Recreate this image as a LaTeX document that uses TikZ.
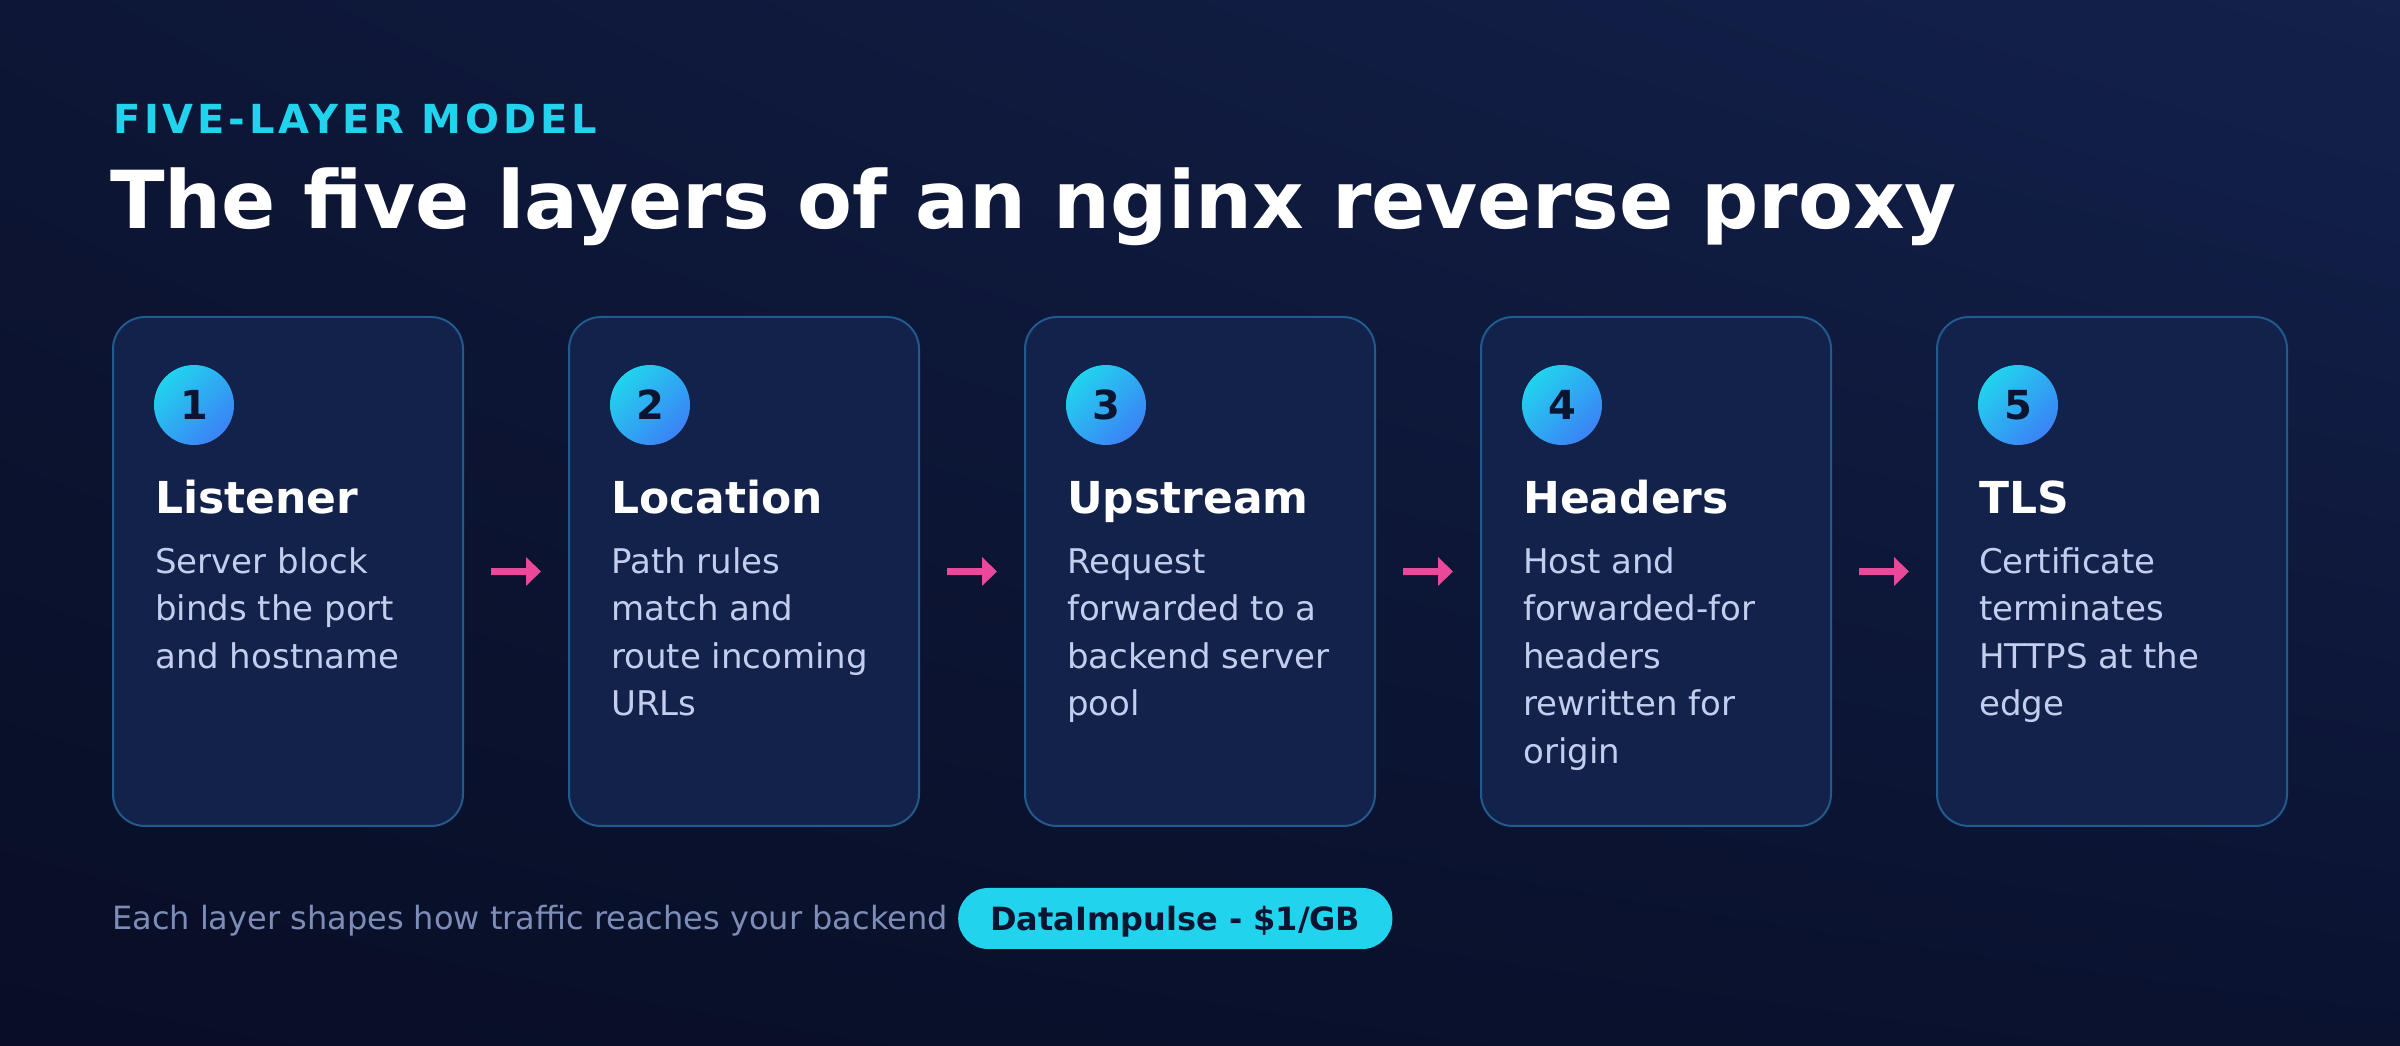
\documentclass[tikz,border=0pt]{standalone}
\usepackage{fontspec}
\setmainfont{DejaVu Sans}
\newfontfamily\tracked[LetterSpace=9.5]{DejaVu Sans}
\usetikzlibrary{arrows.meta,shadings}

\definecolor{bgtl}{HTML}{0D1636}
\definecolor{bgtr}{HTML}{13214B}
\definecolor{bgbl}{HTML}{080E25}
\definecolor{bgbr}{HTML}{0A1230}
\definecolor{cardfill}{HTML}{13224B}
\definecolor{cardline}{HTML}{215A8C}
\definecolor{cyanacc}{HTML}{22D3EE}
\definecolor{blueacc}{HTML}{3B82F6}
\definecolor{pinkacc}{HTML}{EC4899}
\definecolor{bodytext}{HTML}{C3CDEE}
\definecolor{mutedtext}{HTML}{7D8DB8}
\definecolor{ink}{HTML}{0B1430}

\begin{document}
\begin{tikzpicture}[x=1pt, y=1pt,
		card/.style={draw=cardline, line width=2pt, fill=cardfill, rounded corners=32pt, minimum width=350pt, minimum height=509pt, inner sep=0pt},
		badge/.style={circle, minimum size=80pt, inner sep=0pt, top color=cyanacc, bottom color=blueacc, shading angle=45, text=ink, font=\fontsize{40}{40}\selectfont\bfseries, text height=29pt, text depth=0pt},
		head/.style={anchor=base west, inner sep=0pt, text=white, font=\fontsize{44}{52}\selectfont\bfseries},
		body/.style={anchor=base west, inner sep=0pt, text=bodytext, align=left, font=\fontsize{34}{47.4}\selectfont},
		flow/.style={-{Triangle[length=15pt,width=28pt]}, line width=7pt, draw=pinkacc, shorten <=27pt, shorten >=27pt}]
		% background
		\useasboundingbox (0,0) rectangle (2400,1046);
		\shade[upper left=bgtl, upper right=bgtr, lower left=bgbl, lower right=bgbr] (0,0) rectangle (2400,1046);
		
		\node[anchor=base west, inner sep=0pt, text=cyanacc, font=\fontsize{40}{46}\selectfont\tracked\bfseries] (kicker) at (113,912) {FIVE-LAYER MODEL};
		\node[anchor=base west, inner sep=0pt, text=white, font=\fontsize{80}{90}\selectfont\bfseries] (title) at (110,817) {The five layers of an nginx reverse proxy};
		
		\node[card] (c1) at (288,474.5) {};
		\node[card] (c2) at (744,474.5) {};
		\node[card] (c3) at (1200,474.5) {};
		\node[card] (c4) at (1656,474.5) {};
		\node[card] (c5) at (2112,474.5) {};
		
		\node[badge] (b1) at (194,641) {1};
		\node[badge] (b2) at (650,641) {2};
		\node[badge] (b3) at (1106,641) {3};
		\node[badge] (b4) at (1562,641) {4};
		\node[badge] (b5) at (2018,641) {5};
		
		\node[head] (h1) at (155,532.5) {Listener};
		\node[head] (h2) at (611,532.5) {Location};
		\node[head] (h3) at (1067,532.5) {Upstream};
		\node[head] (h4) at (1523,532.5) {Headers};
		\node[head] (h5) at (1979,532.5) {TLS};
		
		% base of a body node = baseline of its last line
		\node[body] (t1) at (155,377.7) {Server block\\binds the port\\and hostname};
		\node[body] (t2) at (611,330.3) {Path rules\\match and\\route incoming\\URLs};
		\node[body] (t3) at (1067,330.3) {Request\\forwarded to a\\backend server\\pool};
		\node[body] (t4) at (1523,282.9) {Host and\\forwarded-for\\headers\\rewritten for\\origin};
		\node[body] (t5) at (1979,330.3) {Certificate\\terminates\\HTTPS at the\\edge};
		
		\draw[flow] (c1.east) -- (c2.west);
		\draw[flow] (c2.east) -- (c3.west);
		\draw[flow] (c3.east) -- (c4.west);
		\draw[flow] (c4.east) -- (c5.west);
		
		% footer
		\node[anchor=base west, inner sep=0pt, text=mutedtext, font=\fontsize{32}{38}\selectfont] (note) at (112,116) {Each layer shapes how traffic reaches your backend};
		\node[anchor=west, fill=cyanacc, rounded corners=30pt, minimum height=61pt, inner xsep=32pt, inner ysep=0pt, text=ink, text height=23.3pt, text depth=0pt, font=\fontsize{32}{38}\selectfont\bfseries] (price) at (958,127.5) {DataImpulse - \$1/GB};
	\end{tikzpicture}
\end{document}
